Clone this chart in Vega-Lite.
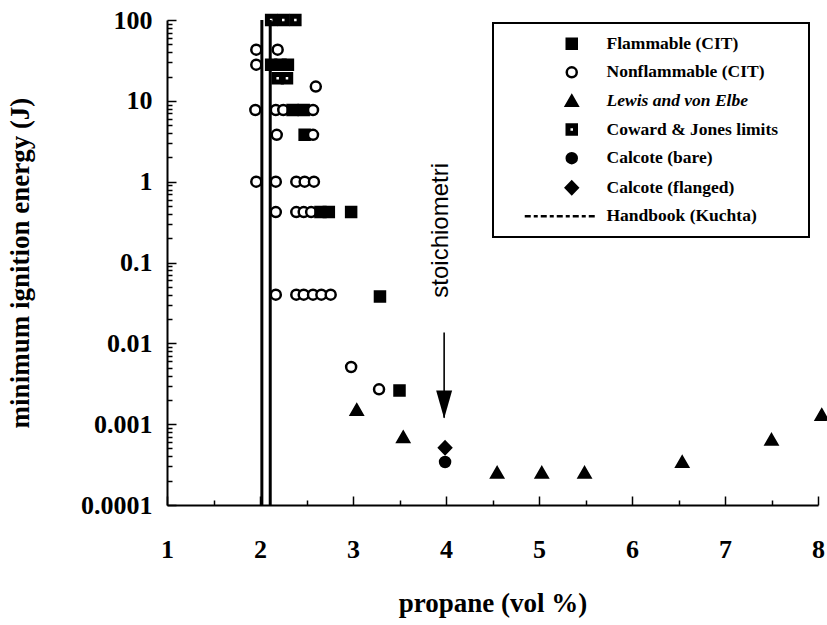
{
  "$schema": "https://vega.github.io/schema/vega-lite/v6.json",
  "width": 651,
  "height": 485,
  "autosize": {"type": "none"},
  "padding": {"left": 167, "top": 20, "right": 9, "bottom": 120},
  "background": "white",
  "config": {
    "view": {"stroke": null},
    "font": "Liberation Serif",
    "legend": {"strokeWidth": 2},
    "axis": {
      "grid": false,
      "domainColor": "black",
      "domainWidth": 2,
      "tickColor": "black",
      "tickWidth": 1.5,
      "labelColor": "black",
      "labelFont": "Liberation Serif",
      "labelFontWeight": "bold",
      "labelFontSize": 26,
      "labelOverlap": false,
      "labelBound": false,
      "labelFlush": false,
      "titleColor": "black",
      "titleFont": "Liberation Serif",
      "titleFontWeight": "bold",
      "titleFontSize": 27
    }
  },
  "datasets": {
    "ignition": [
      {"pct": 1.96, "mie": 43, "series": "Nonflammable (CIT)"},
      {"pct": 2.19, "mie": 43, "series": "Nonflammable (CIT)"},
      {"pct": 1.96, "mie": 28, "series": "Nonflammable (CIT)"},
      {"pct": 2.12, "mie": 28, "series": "Flammable (CIT)"},
      {"pct": 2.22, "mie": 28, "series": "Flammable (CIT)"},
      {"pct": 2.3, "mie": 28, "series": "Flammable (CIT)"},
      {"pct": 2.19, "mie": 19, "series": "Coward & Jones limits"},
      {"pct": 2.29, "mie": 19, "series": "Coward & Jones limits"},
      {"pct": 2.12, "mie": 100, "series": "Coward & Jones limits"},
      {"pct": 2.25, "mie": 100, "series": "Coward & Jones limits"},
      {"pct": 2.38, "mie": 100, "series": "Coward & Jones limits"},
      {"pct": 2.6, "mie": 15, "series": "Nonflammable (CIT)"},
      {"pct": 1.95, "mie": 7.7, "series": "Nonflammable (CIT)"},
      {"pct": 2.17, "mie": 7.7, "series": "Nonflammable (CIT)"},
      {"pct": 2.25, "mie": 7.7, "series": "Nonflammable (CIT)"},
      {"pct": 2.35, "mie": 7.7, "series": "Flammable (CIT)"},
      {"pct": 2.47, "mie": 7.7, "series": "Flammable (CIT)"},
      {"pct": 2.57, "mie": 7.7, "series": "Nonflammable (CIT)"},
      {"pct": 2.18, "mie": 3.8, "series": "Nonflammable (CIT)"},
      {"pct": 2.48, "mie": 3.8, "series": "Flammable (CIT)"},
      {"pct": 2.57, "mie": 3.8, "series": "Nonflammable (CIT)"},
      {"pct": 1.96, "mie": 1, "series": "Nonflammable (CIT)"},
      {"pct": 2.17, "mie": 1, "series": "Nonflammable (CIT)"},
      {"pct": 2.39, "mie": 1, "series": "Nonflammable (CIT)"},
      {"pct": 2.48, "mie": 1, "series": "Nonflammable (CIT)"},
      {"pct": 2.58, "mie": 1, "series": "Nonflammable (CIT)"},
      {"pct": 2.17, "mie": 0.42, "series": "Nonflammable (CIT)"},
      {"pct": 2.39, "mie": 0.42, "series": "Nonflammable (CIT)"},
      {"pct": 2.47, "mie": 0.42, "series": "Nonflammable (CIT)"},
      {"pct": 2.55, "mie": 0.42, "series": "Nonflammable (CIT)"},
      {"pct": 2.65, "mie": 0.42, "series": "Flammable (CIT)"},
      {"pct": 2.74, "mie": 0.42, "series": "Flammable (CIT)"},
      {"pct": 2.98, "mie": 0.42, "series": "Flammable (CIT)"},
      {"pct": 2.17, "mie": 0.04, "series": "Nonflammable (CIT)"},
      {"pct": 2.39, "mie": 0.04, "series": "Nonflammable (CIT)"},
      {"pct": 2.47, "mie": 0.04, "series": "Nonflammable (CIT)"},
      {"pct": 2.57, "mie": 0.04, "series": "Nonflammable (CIT)"},
      {"pct": 2.66, "mie": 0.04, "series": "Nonflammable (CIT)"},
      {"pct": 2.76, "mie": 0.04, "series": "Nonflammable (CIT)"},
      {"pct": 3.29, "mie": 0.038, "series": "Flammable (CIT)"},
      {"pct": 2.98, "mie": 0.0051, "series": "Nonflammable (CIT)"},
      {"pct": 3.28, "mie": 0.0027, "series": "Nonflammable (CIT)"},
      {"pct": 3.5, "mie": 0.0026, "series": "Flammable (CIT)"},
      {"pct": 3.04, "mie": 0.0015, "series": "Lewis and von Elbe"},
      {"pct": 3.54, "mie": 0.00069, "series": "Lewis and von Elbe"},
      {"pct": 4.55, "mie": 0.00025, "series": "Lewis and von Elbe"},
      {"pct": 5.03, "mie": 0.00025, "series": "Lewis and von Elbe"},
      {"pct": 5.49, "mie": 0.00025, "series": "Lewis and von Elbe"},
      {"pct": 6.54, "mie": 0.00034, "series": "Lewis and von Elbe"},
      {"pct": 7.5, "mie": 0.00064, "series": "Lewis and von Elbe"},
      {"pct": 8.04, "mie": 0.0013, "series": "Lewis and von Elbe"},
      {"pct": 3.99, "mie": 0.00034, "series": "Calcote (bare)"},
      {"pct": 3.99, "mie": 0.00051, "series": "Calcote (flanged)"}
    ],
    "handbook": [
      {"pct": 2.02},
      {"pct": 2.11}
    ],
    "stoich": [
      {"pct": 3.98, "from": 0.0136, "to": 0.0012, "head": 0.00175, "label": "stoichiometri", "labelPct": 3.95, "labelMie": 0.25}
    ]
  },
  "layer": [
    {
      "data": {"name": "handbook"},
      "mark": {"type": "rule", "color": "black", "strokeWidth": 3},
      "encoding": {
        "x": {"field": "pct", "type": "quantitative", "scale": {"domain": [1, 8], "nice": false, "zero": false}}
      }
    },
    {
      "data": {"name": "stoich"},
      "mark": {"type": "rule", "color": "black", "strokeWidth": 1.6},
      "encoding": {
        "x": {"field": "pct", "type": "quantitative"},
        "y": {"field": "from", "type": "quantitative"},
        "y2": {"field": "to"}
      }
    },
    {
      "data": {"name": "stoich"},
      "mark": {"type": "point", "shape": "M-0.57,-1L0.57,-1L0,1Z", "size": 784, "filled": true, "color": "black", "opacity": 1},
      "encoding": {
        "x": {"field": "pct", "type": "quantitative"},
        "y": {"field": "head", "type": "quantitative"}
      }
    },
    {
      "data": {"name": "stoich"},
      "mark": {"type": "text", "angle": 270, "font": "Liberation Sans", "fontSize": 24, "align": "center", "baseline": "middle", "color": "black"},
      "encoding": {
        "x": {"field": "labelPct", "type": "quantitative"},
        "y": {"field": "labelMie", "type": "quantitative"},
        "text": {"field": "label"}
      }
    },
    {
      "data": {"name": "ignition"},
      "mark": {"type": "point", "size": 100, "strokeWidth": 2.5, "opacity": 1, "strokeOpacity": 1, "fillOpacity": 1},
      "encoding": {
        "x": {
          "field": "pct", "type": "quantitative",
          "scale": {"domain": [1, 8], "nice": false, "zero": false},
          "axis": {
            "title": "propane (vol %)",
            "values": [1, 1.5, 2, 2.5, 3, 3.5, 4, 4.5, 5, 5.5, 6, 6.5, 7, 7.5, 8],
            "format": "~g",
            "labelExpr": "datum.value % 1 == 0 ? datum.label : ''",
            "tickSize": {"condition": {"test": "datum.value % 1 == 0", "value": -9}, "value": -5},
            "labelPadding": 40,
            "titlePadding": 24
          }
        },
        "y": {
          "field": "mie", "type": "quantitative",
          "scale": {"type": "log", "domain": [0.0001, 100], "nice": false},
          "axis": {
            "title": "minimum ignition energy (J)",
            "values": [0.0001, 0.0002, 0.0003, 0.0004, 0.0005, 0.0006, 0.0007, 0.0008, 0.0009,
                       0.001, 0.002, 0.003, 0.004, 0.005, 0.006, 0.007, 0.008, 0.009,
                       0.01, 0.02, 0.03, 0.04, 0.05, 0.06, 0.07, 0.08, 0.09,
                       0.1, 0.2, 0.3, 0.4, 0.5, 0.6, 0.7, 0.8, 0.9,
                       1, 2, 3, 4, 5, 6, 7, 8, 9,
                       10, 20, 30, 40, 50, 60, 70, 80, 90, 100],
            "format": "~g",
            "labelExpr": "indexof(['100','10','1','0.1','0.01','0.001','0.0001'], datum.label) >= 0 ? datum.label : ''",
            "tickSize": {"condition": {"test": "datum.value == 100 || datum.value == 10 || datum.value == 1 || datum.value == 0.1 || datum.value == 0.01 || datum.value == 0.001 || datum.value == 0.0001", "value": -9}, "value": -5},
            "labelPadding": 24,
            "titlePadding": 46
          }
        },
        "shape": {
          "field": "series", "type": "nominal",
          "scale": {
            "domain": ["Flammable (CIT)", "Nonflammable (CIT)", "Lewis and von Elbe", "Coward & Jones limits", "Calcote (bare)", "Calcote (flanged)", "Handbook (Kuchta)"],
            "range": [
              "M-1,-1H1V1H-1Z",
              "circle",
              "M0,-1.05L1.15,0.95L-1.15,0.95Z",
              "M-1,-1H1V1H-1Z M-0.5,-0.5V0.5H0.5V-0.5Z",
              "circle",
              "M0,-1.25L1.2,0L0,1.25L-1.2,0Z",
              "M-9.4,0H-8.2M-7.6,0H-6.8M-6.2,0H-5M-4.4,0H-3.6M-3,0H-1.8M-1.2,0H-0.4M0.2,0H1.4M2,0H2.8M3.4,0H4.6"
            ]
          },
          "legend": {
            "title": "\u00a0",
            "titleOrient": "right",
            "titlePadding": 19,
            "titleFontSize": 17.5,
            "orient": "none",
            "legendX": 326,
            "legendY": 3,
            "padding": 12,
            "strokeColor": "black",
            "fillColor": "white",
            "symbolOffset": 58,
            "symbolSize": 100,
            "symbolStrokeColor": "black",
            "symbolStrokeWidth": 2.5,
            "labelOffset": 26,
            "rowPadding": 7.6,
            "labelFont": "Liberation Serif",
            "labelFontWeight": "bold",
            "labelFontSize": 17.5,
            "labelFontStyle": {"expr": "datum.value === 'Lewis and von Elbe' ? 'italic' : 'normal'"},
            "labelColor": "black",
            "labelLimit": 400
          }
        },
        "fill": {
          "field": "series", "type": "nominal",
          "scale": {
            "domain": ["Flammable (CIT)", "Nonflammable (CIT)", "Lewis and von Elbe", "Coward & Jones limits", "Calcote (bare)", "Calcote (flanged)", "Handbook (Kuchta)"],
            "range": ["black", "white", "black", "black", "black", "black", "black"]
          }
        },
        "stroke": {
          "field": "series", "type": "nominal",
          "scale": {
            "domain": ["Flammable (CIT)", "Nonflammable (CIT)", "Lewis and von Elbe", "Coward & Jones limits", "Calcote (bare)", "Calcote (flanged)", "Handbook (Kuchta)"],
            "range": ["black", "black", "black", "black", "black", "black", "black"]
          }
        }
      }
    }
  ]
}
